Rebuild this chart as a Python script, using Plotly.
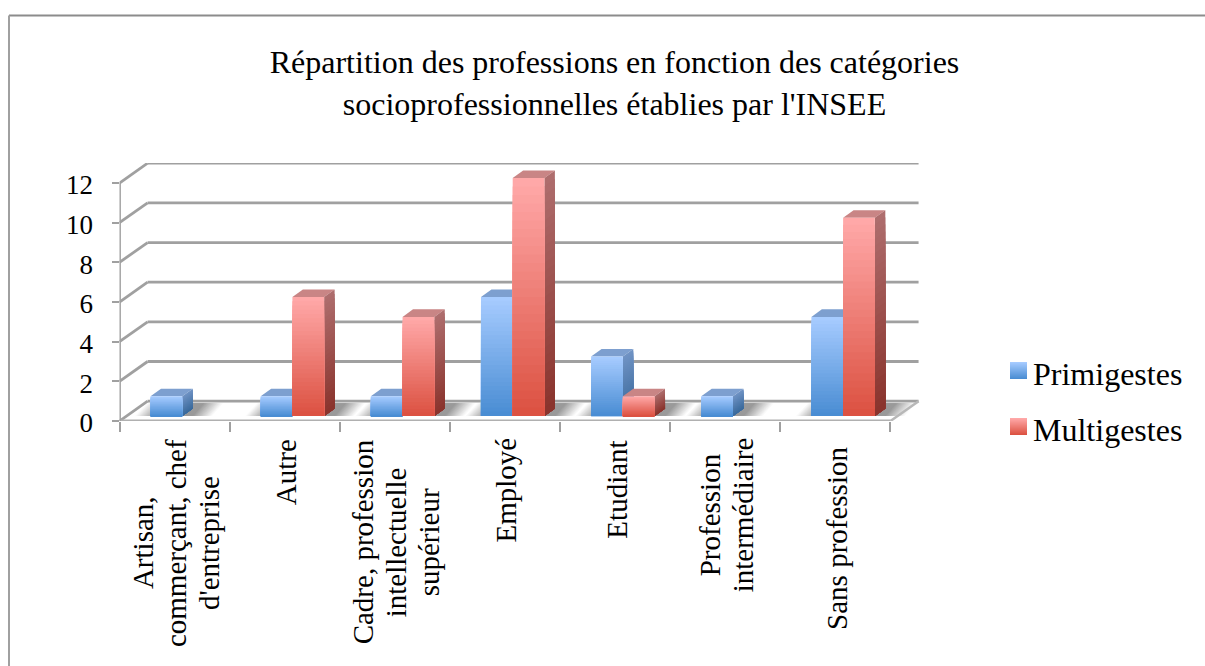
import plotly.graph_objects as go

# Data
categories = [
    ['Artisan,', 'commerçant, chef', "d'entreprise"],
    ['Autre'],
    ['Cadre, profession', 'intellectuelle', 'supérieur'],
    ['Employé'],
    ['Etudiant'],
    ['Profession', 'intermédiaire'],
    ['Sans profession'],
]
primigestes = [1, 1, 1, 6, 3, 1, 5]
multigestes = [0, 6, 5, 12, 1, 0, 10]
y_ticks = [0, 2, 4, 6, 8, 10, 12]
title = "Répartition des professions en fonction des catégories<br>socioprofessionnelles établies par l'INSEE"

W, H = 1205, 666
FONT = 'Liberation Serif'
STEPS = 28
GRID = '#A0A0A0'

# pseudo 3D geometry, in axis units
WALL_DX, WALL_DY = 0.255, 1.0
BAR_DX, BAR_DY = 0.095, 0.38
BAR_BASE = 0.25
BAR_WIDTH = 0.288
BLUE_OFFSET = -0.218
RED_OFFSET = BLUE_OFFSET + BAR_WIDTH
X_MIN = -0.5
X_MAX = X_MIN + 801 / 110.14
Y_MAX = 258 / 19.83

# vertical centre of each rotated label, pixels
label_mid = [543, 472, 542, 490, 490, 515, 538]

styles = {
    'blue': dict(front=('#A6CBFF', '#4A8DD3'), side=('#7093C4', '#3A6A9C'), top='#7D9FCF'),
    'red': dict(front=('#FFA8A8', '#DC5242'), side=('#AE6D6D', '#8A342D'), top='#C98585'),
}


def mix(c1, c2, t):
    a = [int(c1[i:i + 2], 16) for i in (1, 3, 5)]
    b = [int(c2[i:i + 2], 16) for i in (1, 3, 5)]
    return '#' + ''.join(f'{round(p + (q - p) * t):02X}' for p, q in zip(a, b))


def poly(points, color, line=None, width=0, ref=('x', 'y'), layer='below'):
    path = 'M' + 'L'.join(f'{x},{y}' for x, y in points) + 'Z'
    return dict(type='path', path=path, xref=ref[0], yref=ref[1], layer=layer, fillcolor=color,
                line=dict(color=line or color, width=width))


def seg(x0, y0, x1, y1, color=GRID, width=2.8):
    return dict(type='line', x0=x0, y0=y0, x1=x1, y1=y1, xref='x', yref='y', layer='below',
                line=dict(color=color, width=width))


shapes = []

# floor
floor_x1 = X_MIN + 7
shapes.append(poly([(X_MIN, 0), (X_MIN + WALL_DX, WALL_DY), (floor_x1 + WALL_DX, WALL_DY), (floor_x1, 0)], '#FFFFFF'))

# back wall and left side grid
for v in y_ticks:
    shapes.append(seg(X_MIN + WALL_DX, v + WALL_DY, floor_x1 + WALL_DX, v + WALL_DY))
    shapes.append(seg(X_MIN, v, X_MIN + WALL_DX, v + WALL_DY))

# shadows on the floor, nested from pale to dark
for i, (p, m) in enumerate(zip(primigestes, multigestes)):
    left = i + BLUE_OFFSET
    right = i + (RED_OFFSET if m else BLUE_OFFSET) + BAR_WIDTH
    for k in range(14):
        t = k / 13
        grow = 0.17 * (1 - t)
        shapes.append(poly([(left - grow + 0.03, BAR_BASE), (left - grow + 0.14, WALL_DY - 0.1),
                            (right + 0.2 + grow, WALL_DY - 0.1), (right + 0.1 + grow, BAR_BASE)],
                           mix('#FAFAFA', '#9A9A9A', t)))

# front edge of the floor, right edge, left axis line
shapes.append(seg(X_MIN, 0, floor_x1, 0, '#B0B0B0', 3))
shapes.append(seg(floor_x1, 0, floor_x1 + WALL_DX, WALL_DY, '#B8B8B8', 2.5))
shapes.append(seg(X_MIN, 0, X_MIN, 12))


def add_depth(values, offset, style):
    for i, v in enumerate(values):
        if not v:
            continue
        x0 = i + offset
        x1 = x0 + BAR_WIDTH
        top = BAR_BASE + v
        shapes.append(poly([(x0, top), (x0 + BAR_DX, top + BAR_DY), (x1 + BAR_DX, top + BAR_DY), (x1, top)], style['top']))
        for k in range(STEPS):
            h = BAR_BASE + v * (STEPS - k) / STEPS
            shapes.append(poly([(x1, BAR_BASE), (x1 + BAR_DX, BAR_BASE + BAR_DY), (x1 + BAR_DX, h + BAR_DY), (x1, h)],
                               mix(style['side'][0], style['side'][1], k / (STEPS - 1))))


add_depth(primigestes, BLUE_OFFSET, styles['blue'])
add_depth(multigestes, RED_OFFSET, styles['red'])

fig = go.Figure()
x_pos = list(range(len(categories)))
for values, offset, style, name in ((primigestes, BLUE_OFFSET, styles['blue'], 'Primigestes'),
                                    (multigestes, RED_OFFSET, styles['red'], 'Multigestes')):
    # gradient: shorter and shorter bars painted over each other
    for k in range(STEPS):
        frac = (STEPS - k) / STEPS
        fig.add_trace(go.Bar(x=x_pos, y=[v * frac for v in values], base=BAR_BASE, width=BAR_WIDTH, offset=offset,
                             marker=dict(color=mix(style['front'][0], style['front'][1], k / (STEPS - 1)), line_width=0),
                             name=name, showlegend=False, hoverinfo='skip' if k else None))

annotations = []

# category labels, one annotation per line because of the tight line spacing
for i, lines in enumerate(categories):
    for j, text in enumerate(lines):
        annotations.append(dict(text=text, x=i, xref='x', y=1 - label_mid[i] / H, yref='paper',
                                xshift=(j - (len(lines) - 1) / 2) * 33 + 1.5, textangle=-90, showarrow=False,
                                xanchor='center', yanchor='middle', font=dict(family=FONT, size=29, color='#000000')))

# legend
for name, style, y_px in (('Primigestes', styles['blue'], 362), ('Multigestes', styles['red'], 418)):
    for k in range(17):
        shapes.append(dict(type='rect', xref='paper', yref='paper', x0=1010 / W, x1=1027 / W,
                           y0=1 - (y_px + k + 1) / H, y1=1 - (y_px + k) / H, layer='above', line_width=0,
                           fillcolor=mix(style['front'][0], style['front'][1], k / 16)))
    annotations.append(dict(text=name, x=1031 / W, y=1 - (y_px + 12.5) / H, xref='paper', yref='paper', showarrow=False,
                            xanchor='left', yanchor='middle', font=dict(family=FONT, size=32, color='#000000')))

# chart frame
shapes.append(dict(type='line', xref='paper', yref='paper', x0=9 / W, x1=1, y0=1 - 15.5 / H, y1=1 - 15.5 / H,
                   layer='above', line=dict(color='#8C8C8C', width=2)))
shapes.append(dict(type='line', xref='paper', yref='paper', x0=9 / W, x1=9 / W, y0=0, y1=1 - 15.5 / H,
                   layer='above', line=dict(color='#A0A0A0', width=2)))

fig.update_layout(
    width=W, height=H, autosize=False,
    margin=dict(l=0, r=0, t=0, b=0),
    paper_bgcolor='#FFFFFF', plot_bgcolor='#FFFFFF',
    barmode='overlay', showlegend=False,
    title=dict(text=title, x=614.5 / W, xanchor='center', y=1 - 73 / H, yanchor='middle',
               font=dict(family=FONT, size=32, color='#000000')),
    xaxis=dict(domain=[119.5 / W, 920.5 / W], range=[X_MIN, X_MAX], showgrid=False, zeroline=False,
               tickmode='array', tickvals=[i - 0.5 for i in range(8)], showticklabels=False, automargin=False,
               ticks='outside', ticklen=10, tickwidth=2, tickcolor=GRID, showline=False),
    yaxis=dict(domain=[1 - 421 / H, 1 - 163 / H], range=[0, Y_MAX], showgrid=False, zeroline=False, automargin=False,
               tickmode='array', tickvals=y_ticks, ticks='outside', ticklen=7, tickwidth=2, tickcolor=GRID,
               ticklabelstandoff=13, ticklabelshift=2, tickfont=dict(family=FONT, size=27, color='#000000'), showline=False),
    shapes=shapes,
    annotations=annotations,
)

fig.write_html('out.html', config={'displayModeBar': False},
               post_script="document.body.style.margin='0';document.body.style.overflow='hidden';")
